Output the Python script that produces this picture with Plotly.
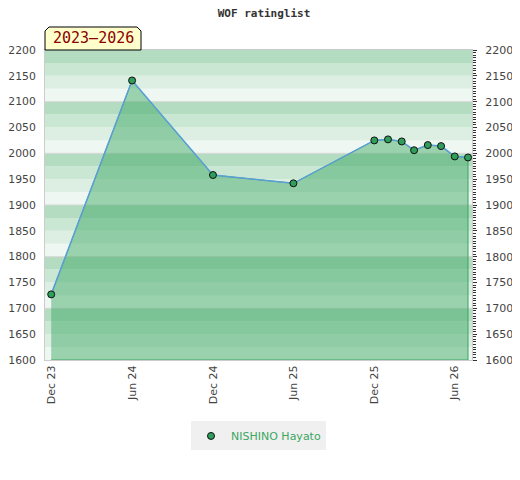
import plotly.graph_objects as go

# data
dates = ["2023-12-01", "2024-06-01", "2024-12-01", "2025-06-01",
         "2025-12-01", "2026-01-01", "2026-02-01", "2026-03-01",
         "2026-04-01", "2026-05-01", "2026-06-01", "2026-07-01"]
ratings = [1727, 2141, 1958, 1942, 2025, 2027, 2023, 2006, 2016, 2014, 1994, 1992]
player = "NISHINO Hayato"
period = "2023–2026"

y_min, y_max = 1600, 2200
stripe_colors = ["#eff7f2", "#dcefe2", "#c9e7d3", "#b3dcc1"]  # bottom -> top inside each 100 block

fig = go.Figure()

# filled area below the rating line, green outline on the sides
fig.add_trace(go.Scatter(
    x=dates + [dates[-1], dates[0]],
    y=ratings + [y_min, y_min],
    mode="lines", fill="toself",
    fillcolor="rgba(59,167,98,0.47)",
    line=dict(color="#3ba762", width=1),
    hoverinfo="skip", showlegend=False,
))
fig.add_trace(go.Scatter(
    x=dates, y=ratings, mode="lines",
    line=dict(color="#5b9fd6", width=1.5),
    showlegend=False, hoverinfo="skip",
))
fig.add_trace(go.Scatter(
    x=dates, y=ratings, mode="markers", name=player,
    marker=dict(size=7, color="#2f9e5a", line=dict(color="#111111", width=1)),
))
# invisible trace to carry the right axis
fig.add_trace(go.Scatter(x=dates[:1], y=ratings[:1], yaxis="y2", mode="markers",
                         marker=dict(opacity=0), showlegend=False, hoverinfo="skip"))

shapes = []
for lo in range(y_min, y_max, 25):
    shapes.append(dict(type="rect", xref="paper", yref="y", x0=0, x1=1, y0=lo, y1=lo + 25,
                       fillcolor=stripe_colors[(lo - y_min) // 25 % 4], line_width=0, layer="below"))
for v in range(y_min + 100, y_max, 100):
    shapes.append(dict(type="line", xref="paper", yref="y", x0=0, x1=1, y0=v, y1=v,
                       line=dict(color="#d6d6d6", width=1), layer="below"))

# period label box with cut top corners
w, h = 427.0, 310.0
bx, by, c = 96 / w, 23 / h, 4
shapes.append(dict(
    type="path", xref="paper", yref="paper",
    path=(f"M 0 1 L 0 {1 + (23 - c) / h} L {c / w} {1 + by} L {bx - c / w} {1 + by} "
          f"L {bx} {1 + (23 - c) / h} L {bx} 1 Z"),
    fillcolor="#ffffcc", line=dict(color="#000000", width=1), layer="above",
))

# page body adds an 8px margin, so the figure is 8px smaller each way
fig.update_layout(
    width=512, height=472,
    margin=dict(l=37, r=48, t=42, b=120, autoexpand=False),
    paper_bgcolor="white", plot_bgcolor="white",
    font=dict(family="DejaVu Sans", size=11, color="#444444"),
    title=dict(text="<b>WOF ratinglist</b>", x=0.5, xanchor="center", y=0.989, yanchor="middle",
               font=dict(family="DejaVu Sans Mono", size=11, color="#333333")),
    shapes=shapes,
    annotations=[dict(text=period, xref="paper", yref="paper", x=bx / 2, y=1 + by / 2,
                      xanchor="center", yanchor="middle", showarrow=False,
                      font=dict(family="DejaVu Sans Mono", size=15, color="#8b0000"))],
    xaxis=dict(type="date", range=["2023-11-17", "2026-07-10"], automargin=False,
               tick0="2023-12-01", dtick="M6", tickformat="%b %y", tickangle=-90,
               showgrid=False, zeroline=False, showline=True, mirror=True,
               linecolor="#cccccc", ticks="", ticklen=0),
    yaxis=dict(range=[y_min, y_max], dtick=50, showgrid=False, zeroline=False, automargin=False,
               showline=True, mirror=True, linecolor="#cccccc", ticks="", ticklabelstandoff=6,
               tickfont=dict(size=10.8)),
    yaxis2=dict(range=[y_min, y_max], dtick=50, overlaying="y", side="right", automargin=False,
                showgrid=False, zeroline=False, ticks="outside", ticklen=4,
                tickcolor="#333333", ticklabelstandoff=6,
                minor=dict(dtick=5, ticks="outside", ticklen=3, tickcolor="#333333")),
    legend=dict(orientation="h", x=0.5, xanchor="center", y=-0.245, yanchor="middle",
                bgcolor="#f0f0f0", font=dict(color="#3ba762", size=11)),
    hovermode=False,
)

fig.write_html("out.html")
